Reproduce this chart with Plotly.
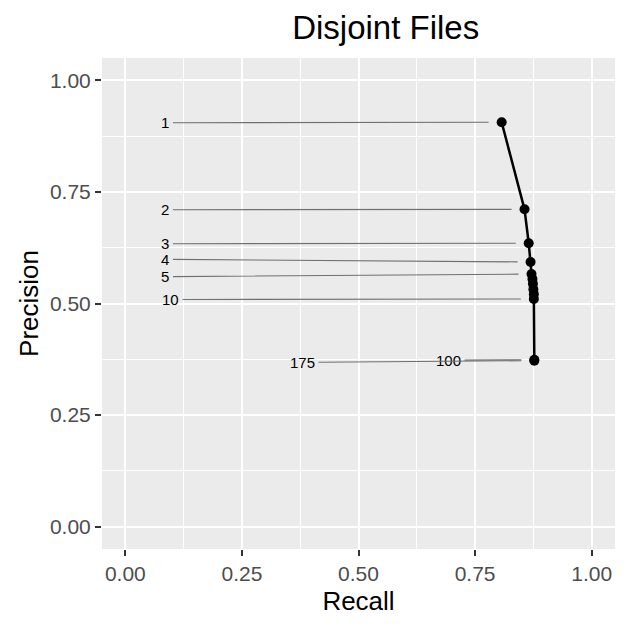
import plotly.graph_objects as go

# ---- data ----
k_values = [1, 2, 3, 4, 5, 6, 7, 8, 9, 10, 100, 175]
recall = [0.807, 0.856, 0.865, 0.869, 0.871, 0.873, 0.874, 0.875, 0.876, 0.876, 0.877, 0.877]
precision = [0.906, 0.711, 0.635, 0.593, 0.566, 0.555, 0.544, 0.532, 0.521, 0.510, 0.374, 0.372]

labelled_k = [1, 2, 3, 4, 5, 10, 100, 175]
# repelled label positions (data coords)
label_recall = [0.086, 0.086, 0.086, 0.086, 0.086, 0.097, 0.693, 0.380]
label_precision = [0.905, 0.710, 0.634, 0.599, 0.560, 0.509, 0.373, 0.368]

x_ticks = [0.0, 0.25, 0.5, 0.75, 1.0]
y_ticks = [0.0, 0.25, 0.5, 0.75, 1.0]
tick_text = ["0.00", "0.25", "0.50", "0.75", "1.00"]

FONT = "Liberation Sans, Arial, Helvetica, sans-serif"

fig = go.Figure()
fig.add_trace(go.Scatter(
    x=recall, y=precision, mode="lines+markers",
    line=dict(color="black", width=2.5),
    marker=dict(color="black", size=10),
    hoverinfo="skip", showlegend=False,
))

annotations = []
for kk, lx, ly in zip(labelled_k, label_recall, label_precision):
    i = k_values.index(kk)
    annotations.append(dict(
        x=recall[i], y=precision[i], xref="x", yref="y",
        ax=lx, ay=ly, axref="x", ayref="y",
        text=str(kk), showarrow=True, arrowhead=0, arrowwidth=1.1,
        arrowcolor="#707070", standoff=13,
        font=dict(family=FONT, size=15, color="black"),
        borderpad=3,
    ))

# page body has an 8px default margin, so offsets are reduced by 8px
fig.update_layout(
    width=629, height=629, autosize=False,
    margin=dict(l=94, r=22, t=50, b=88),
    paper_bgcolor="white", plot_bgcolor="#EBEBEB",
    font=dict(family=FONT),
    title=dict(text="Disjoint Files", x=0.553, xref="paper", xanchor="center",
               y=1 - 19 / 629, yanchor="middle",
               font=dict(family=FONT, size=33, color="black")),
    annotations=annotations,
    showlegend=False,
)

axis_common = dict(
    showgrid=True, gridcolor="white", gridwidth=2,
    zeroline=False, showline=False, automargin=False,
    ticks="outside", ticklen=6, tickwidth=1.5, tickcolor="#333333",
    tickfont=dict(family=FONT, size=21, color="#4D4D4D"),
    ticktext=tick_text, tickmode="array",
    minor=dict(showgrid=True, gridcolor="white", gridwidth=1, tickmode="array",
               tickvals=[0.125, 0.375, 0.625, 0.875], ticks=""),
)

fig.update_xaxes(**axis_common, range=[-0.05, 1.05], tickvals=x_ticks,
                 title=dict(text="Recall", standoff=7,
                            font=dict(family=FONT, size=26, color="black")))
fig.update_yaxes(**axis_common, range=[-0.05, 1.05], tickvals=y_ticks,
                 title=dict(text="Precision", standoff=3,
                            font=dict(family=FONT, size=26, color="black")))

fig.write_html("out.html")
